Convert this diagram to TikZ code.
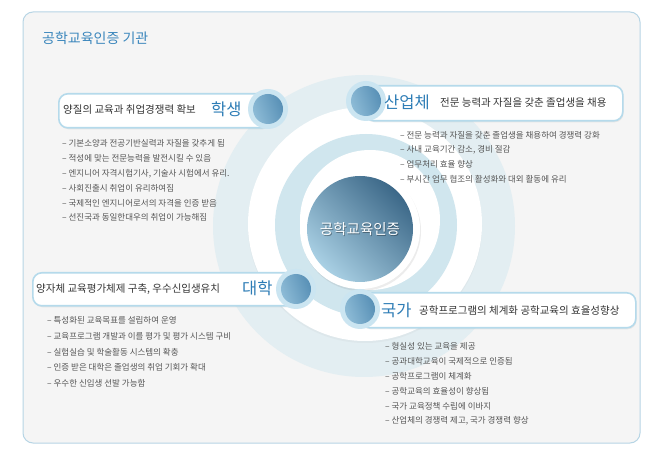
\documentclass[tikz,border=0pt]{standalone}
\usepackage{fontspec}
\newfontfamily\kr{Noto Sans CJK KR}
\usetikzlibrary{shadows}
\definecolor{framec}{HTML}{B7D5E5}
\definecolor{bgc}{HTML}{F5F5F5}
\definecolor{faint}{HTML}{E3EEF2}
\definecolor{ringc}{HTML}{D0E6EE}
\definecolor{boxline}{HTML}{B5DAEB}
\definecolor{halo}{HTML}{CBE5F1}
\definecolor{dotlight}{HTML}{8DBBD6}
\definecolor{dotdark}{HTML}{5890B6}
\definecolor{ctrlight}{HTML}{A9D0E4}
\definecolor{ctrdark}{HTML}{3C6888}
\definecolor{labelblue}{HTML}{2E7DB6}
\definecolor{titleblue}{HTML}{3A86BC}
\definecolor{txt}{HTML}{555555}
\definecolor{boxtxt}{HTML}{353535}
\tikzset{
  pbox/.style={draw=boxline, line width=1.6pt, fill=white, rounded corners=9pt,
    inner sep=0pt, anchor=north west,
    drop shadow={opacity=0.12, shadow xshift=0.8pt, shadow yshift=-1.5pt}},
  halodot/.style={circle, fill=halo, minimum size=40pt, inner sep=0pt},
  dot/.style={circle, minimum size=30pt, inner sep=0pt, left color=dotlight, right color=dotdark, shading angle=110},
  boxtext/.style={anchor=west, inner sep=0pt, text=boxtxt, font=\kr\fontsize{10.5}{12}\selectfont},
  biglabel/.style={anchor=west, inner sep=0pt, text=labelblue, font=\kr\fontsize{16.5}{18}\selectfont},
  bul/.style={anchor=west, inner sep=0pt, text=txt, font=\kr\fontsize{8.5}{10}\selectfont}
}
\begin{document}
\begin{tikzpicture}[x=1pt,y=-1pt]
\useasboundingbox (0,0) rectangle (651,454);
\fill[white] (0,0) rectangle (651,454);
\draw[framec, fill=bgc, line width=1pt, rounded corners=10pt] (23,12) rectangle (640,443);
\node[anchor=west, inner sep=0pt, text=titleblue, font=\kr\fontsize{14}{16}\selectfont] (title) at (42,38) {공학교육인증 기관};

% concentric rings
\coordinate (big) at (364,226);
\coordinate (c) at (360,229);
\fill[faint] (big) circle (151pt);
\fill[white, drop shadow={opacity=0.06, shadow xshift=0pt, shadow yshift=-2pt}] (365,224) circle (117pt);
\fill[ringc] (366,225) circle (91pt);
\fill[white] (370,220) circle (70pt);
\fill[white, drop shadow={opacity=0.15, shadow xshift=1pt, shadow yshift=-2pt}] (c) circle (60pt);
\node[circle, minimum size=106pt, inner sep=0pt, left color=ctrlight, right color=ctrdark, shading angle=135] (center) at (c) {};
\node[text=black, opacity=0.35, font=\kr\fontsize{14.5}{16}\selectfont] (ctxtshadow) at ([shift={(0.8,0.9)}]c) {공학교육인증};
\node[text=white, font=\kr\fontsize{14.5}{16}\selectfont] (ctxt) at (c) {공학교육인증};

% 학생
\node[pbox, minimum width=212pt, minimum height=34pt] (b1) at (58,93) {};
\node[halodot] (h1) at (268,109) {};
\node[dot] (d1) at (h1) {};
\node[boxtext] (t1) at (63,110) {양질의 교육과 취업경쟁력 확보};
\node[biglabel] (l1) at (211,109) {학생};
\foreach \t [count=\i] in {{기본소양과 전공기반실력과 자질을 갖추게 됨},{적성에 맞는 전문능력을 발전시킬 수 있음},{엔지니어 자격시험기사, 기술사 시험에서 유리.},{사회진출시 취업이 유리하여짐},{국제적인 엔지니어로서의 자격을 인증 받음},{선진국과 동일한대우의 취업이 가능해짐}}
  \node[bul] (s\i) at (62,129+14.8*\i) {– \t};

% 산업체
\node[pbox, minimum width=258pt, minimum height=35pt] (b2) at (364,85) {};
\node[halodot] (h2) at (366,101) {};
\node[dot] (d2) at (h2) {};
\node[biglabel] (l2) at (384,102) {산업체};
\node[boxtext] (t2) at (440,103) {전문 능력과 자질을 갖춘 졸업생을 채용};
\foreach \t [count=\i] in {{전문 능력과 자질을 갖춘 졸업생을 채용하여 경쟁력 강화},{사내 교육기간 감소, 경비 절감},{업무처리 효율 향상},{부시간 업무 협조의 활성화와 대외 활동에 유리}}
  \node[bul] (p\i) at (400,120.5+14.6*\i) {– \t};

% 대학
\node[pbox, minimum width=266pt, minimum height=33pt] (b3) at (32,272) {};
\node[halodot] (h3) at (296,289) {};
\node[dot] (d3) at (h3) {};
\node[boxtext] (t3) at (36,289) {양자체 교육평가체제 구축, 우수신입생유치};
\node[biglabel] (l3) at (242,288) {대학};
\foreach \t [count=\i] in {{특성화된 교육목표를 설립하여 운영},{교육프로그램 개발과 이를 평가 및 평가 시스템 구비},{실험실습 및 학술활동 시스템의 확충},{인증 받은 대학은 졸업생의 취업 기회가 확대},{우수한 신입생 선발 가능함}}
  \node[bul] (u\i) at (47,304.5+15.8*\i) {– \t};

% 국가
\node[pbox, minimum width=275pt, minimum height=35pt] (b4) at (360,292) {};
\node[halodot] (h4) at (360,309) {};
\node[dot] (d4) at (h4) {};
\node[biglabel] (l4) at (381,310) {국가};
\node[boxtext] (t4) at (419,311) {공학프로그램의 체계화 공학교육의 효율성향상};
\foreach \t [count=\i] in {{형실성 있는 교육을 제공},{공과대학교육이 국제적으로 인증됨},{공학프로그램이 체계화},{공학교육의 효율성이 향상됨},{국가 교육정책 수립에 이바지},{산업체의 경쟁력 제고, 국가 경쟁력 향상}}
  \node[bul] (g\i) at (385,331+15*\i) {– \t};
\end{tikzpicture}
\end{document}
